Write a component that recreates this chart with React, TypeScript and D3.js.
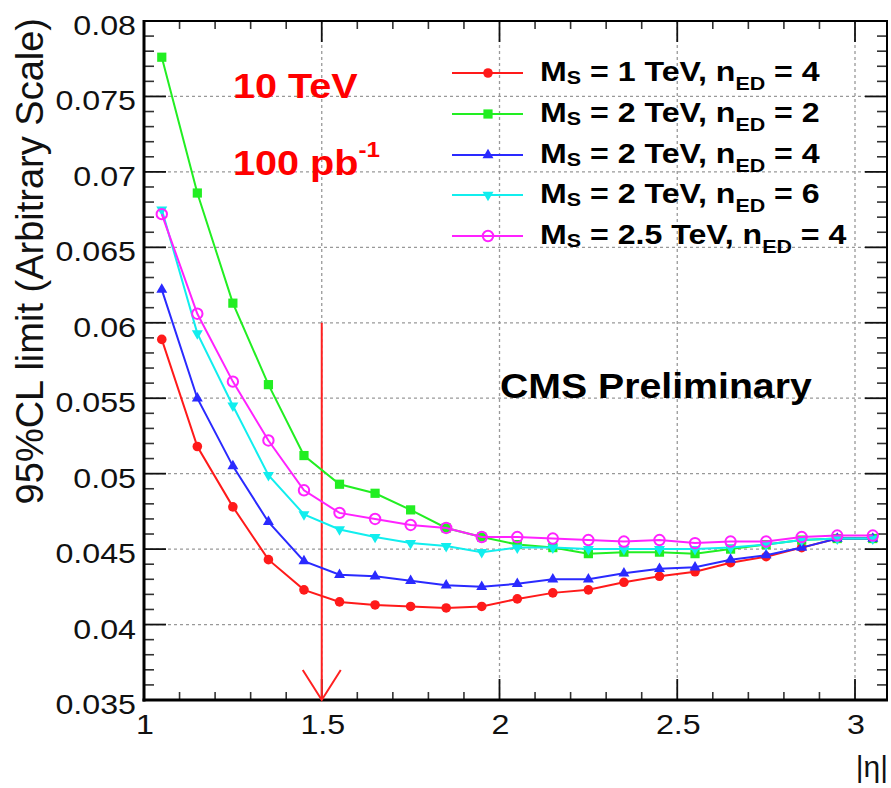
import React from "react";
import * as d3 from "d3";

// |eta| bin centres
const etaBins = [1.05, 1.15, 1.25, 1.35, 1.45, 1.55, 1.65, 1.75, 1.85, 1.95, 2.05,
  2.15, 2.25, 2.35, 2.45, 2.55, 2.65, 2.75, 2.85, 2.95, 3.05];

// 95%CL limit per model
const ms1n4 = [0.0589, 0.0518, 0.0478, 0.0443, 0.0423, 0.0415, 0.0413, 0.0412, 0.0411, 0.0412, 0.0417,
  0.0421, 0.0423, 0.0428, 0.0432, 0.0435, 0.0441, 0.0445, 0.0451, 0.0457, 0.0457];
const ms2n2 = [0.0776, 0.0686, 0.0613, 0.0559, 0.0512, 0.0493, 0.0487, 0.0476, 0.0464, 0.0458, 0.0453,
  0.0451, 0.0447, 0.0448, 0.0448, 0.0447, 0.045, 0.0453, 0.0456, 0.0457, 0.0457];
const ms2n4 = [0.0622, 0.055, 0.0505, 0.0468, 0.0442, 0.0433, 0.0432, 0.0429, 0.0426, 0.0425, 0.0427,
  0.043, 0.043, 0.0434, 0.0437, 0.0438, 0.0443, 0.0446, 0.0451, 0.0457, 0.0457];
const ms2n6 = [0.0675, 0.0593, 0.0545, 0.0499, 0.0473, 0.0463, 0.0458, 0.0454, 0.0452, 0.0448, 0.0451,
  0.0451, 0.045, 0.045, 0.045, 0.045, 0.0451, 0.0453, 0.0456, 0.0457, 0.0457];
const ms25n4 = [0.0672, 0.0606, 0.0561, 0.0522, 0.0489, 0.0474, 0.047, 0.0466, 0.0464, 0.0458, 0.0458,
  0.0457, 0.0456, 0.0455, 0.0456, 0.0454, 0.0455, 0.0455, 0.0458, 0.0459, 0.0459];

const msLabels = ["1", "2", "2", "2", "2.5"];
const nedLabels = ["4", "2", "4", "6", "4"];

const yTicks = [0.035, 0.04, 0.045, 0.05, 0.055, 0.06, 0.065, 0.07, 0.075, 0.08];
const yTickLabels = ["0.035", "0.04", "0.045", "0.05", "0.055", "0.06", "0.065", "0.07", "0.075", "0.08"];
const xTicks = [1, 1.5, 2, 2.5, 3];
const xTickLabels = ["1", "1.5", "2", "2.5", "3"];

// arrow marking the |eta| cut
const cutEta = 1.5;
const cutTop = 0.06;

const W = 891, H = 788;
const L = 144, R = 887, T = 21, B = 700;
const font = "'Liberation Sans', Arial, Helvetica, sans-serif";

const series = [
  { data: ms1n4, color: "#ff1a1a", marker: "circle" },
  { data: ms2n2, color: "#22ee22", marker: "square" },
  { data: ms2n4, color: "#2a2aff", marker: "up" },
  { data: ms2n6, color: "#11eeee", marker: "down" },
  { data: ms25n4, color: "#ff22ff", marker: "open" },
];

function Marker({ kind, x, y, color }) {
  if (kind === "circle") return <circle cx={x} cy={y} r={4.8} fill={color} />;
  if (kind === "open") return <circle cx={x} cy={y} r={5.2} fill="none" stroke={color} strokeWidth={2} />;
  if (kind === "square") return <rect x={x - 4.6} y={y - 4.6} width={9.2} height={9.2} fill={color} />;
  const path = d3.symbol().type(d3.symbolTriangle).size(52)();
  return <path d={path} transform={`translate(${x},${y})${kind === "down" ? " rotate(180)" : ""}`} fill={color} />;
}

export default function App() {
  const x = d3.scaleLinear().domain([1, 3.09]).range([L, R]);
  const y = d3.scaleLinear().domain([0.035, 0.08]).range([B, T]);

  const line = d3.line<number>()
    .x((d, i) => x(etaBins[i]))
    .y((d) => y(d));

  const xMinor = d3.range(11, 31).map((v) => v / 10).filter((v) => Math.round(v * 10) % 5 !== 0);
  const yMinor = d3.range(36, 80).map((v) => v / 1000).filter((v) => Math.round(v * 1000) % 5 !== 0);

  const rowY = [73, 114, 155, 195, 236];

  return (
    <div style={{ position: "absolute", left: 0, top: 0 }}>
      <svg width={W} height={H} style={{ display: "block", background: "#fff" }} fontFamily={font}>
        {/* grid */}
        {yTicks.slice(1, -1).map((v) => (
          <line key={"gy" + v} x1={L} x2={R} y1={y(v)} y2={y(v)} stroke="#999" strokeWidth={1.3} strokeDasharray="3,3" />
        ))}
        {xTicks.slice(1).map((v) => (
          <line key={"gx" + v} x1={x(v)} x2={x(v)} y1={T} y2={B} stroke="#999" strokeWidth={1.3} strokeDasharray="3,3" />
        ))}

        {/* ticks */}
        {xMinor.map((v) => (
          <g key={"xm" + v} stroke="#333" strokeWidth={1.6}>
            <line x1={x(v)} x2={x(v)} y1={B} y2={B - 8} />
            <line x1={x(v)} x2={x(v)} y1={T} y2={T + 8} />
          </g>
        ))}
        {xTicks.slice(1).map((v) => (
          <g key={"xM" + v} stroke="#111" strokeWidth={1.8}>
            <line x1={x(v)} x2={x(v)} y1={B} y2={B - 21} />
            <line x1={x(v)} x2={x(v)} y1={T} y2={T + 21} />
          </g>
        ))}
        {yMinor.map((v) => (
          <g key={"ym" + v} stroke="#333" strokeWidth={1.6}>
            <line x1={L} x2={L + 10} y1={y(v)} y2={y(v)} />
            <line x1={R} x2={R - 10} y1={y(v)} y2={y(v)} />
          </g>
        ))}
        {yTicks.slice(1, -1).map((v) => (
          <g key={"yM" + v} stroke="#111" strokeWidth={1.8}>
            <line x1={L} x2={L + 22} y1={y(v)} y2={y(v)} />
            <line x1={R} x2={R - 22} y1={y(v)} y2={y(v)} />
          </g>
        ))}

        {/* frame */}
        <rect x={L} y={T} width={R - L} height={B - T} fill="none" stroke="#000" strokeWidth={2} />
        <line x1={L} x2={L} y1={T - 1} y2={B + 1.5} stroke="#000" strokeWidth={3} />
        <line x1={L - 1.5} x2={R + 1} y1={B} y2={B} stroke="#000" strokeWidth={3} />

        {/* tick labels */}
        {yTicks.map((v, i) => (
          <text key={"yl" + v} transform={`translate(136,${y(v) + 14}) scale(1.15,1)`} textAnchor="end" fontSize={28} fill="#111">
            {yTickLabels[i]}
          </text>
        ))}
        {xTicks.map((v, i) => (
          <text key={"xl" + v} transform={`translate(${x(v) + 1},734) scale(1.15,1)`} textAnchor="middle" fontSize={28} fill="#111">
            {xTickLabels[i]}
          </text>
        ))}

        {/* axis titles */}
        <text transform="translate(43,18) rotate(-90)" textAnchor="end" fontSize={38} fill="#111">
          95%CL limit (Arbitrary Scale)
        </text>
        <text transform="translate(888,777)" textAnchor="end" fontSize={30} fill="#111">|η|</text>

        {/* cut arrow */}
        <g stroke="#ff2020" strokeWidth={2} fill="none">
          <line x1={x(cutEta)} x2={x(cutEta)} y1={y(cutTop)} y2={y(0.035)} />
          <polyline points={`${x(cutEta) - 19},${y(0.035) - 30} ${x(cutEta)},${y(0.035)} ${x(cutEta) + 19},${y(0.035) - 30}`} />
        </g>

        {/* series */}
        {series.map((s, k) => (
          <g key={"s" + k}>
            <path d={line(s.data) || ""} fill="none" stroke={s.color} strokeWidth={2} />
            {s.data.map((v, i) => (
              <Marker key={i} kind={s.marker} x={x(etaBins[i])} y={y(v)} color={s.color} />
            ))}
          </g>
        ))}

        {/* annotations */}
        <text transform="translate(233,98) scale(1.1,1)" fontSize={36} fontWeight="bold" fill="#ff0000">10 TeV</text>
        <text transform="translate(233,175) scale(1.1,1)" fontSize={36} fontWeight="bold" fill="#ff0000">
          100 pb<tspan fontSize={22} dy={-18}>-1</tspan>
        </text>
        <text transform="translate(500,398) scale(1.09,1)" fontSize={36} fontWeight="bold" fill="#000">CMS Preliminary</text>

        {/* legend */}
        {series.map((s, k) => (
          <g key={"lg" + k}>
            <line x1={452} x2={523} y1={rowY[k]} y2={rowY[k]} stroke={s.color} strokeWidth={2} />
            <Marker kind={s.marker} x={488} y={rowY[k]} color={s.color} />
            <text transform={`translate(540,${rowY[k] + 8}) scale(1.19,1)`} fontSize={27} fontWeight="bold" fill="#000">
              M<tspan fontSize={18} dy={3}>S</tspan>
              <tspan dy={-3}>{` = ${msLabels[k]} TeV, n`}</tspan>
              <tspan fontSize={18} dy={9}>ED</tspan>
              <tspan dy={-9}>{` = ${nedLabels[k]}`}</tspan>
            </text>
          </g>
        ))}
      </svg>
    </div>
  );
}
